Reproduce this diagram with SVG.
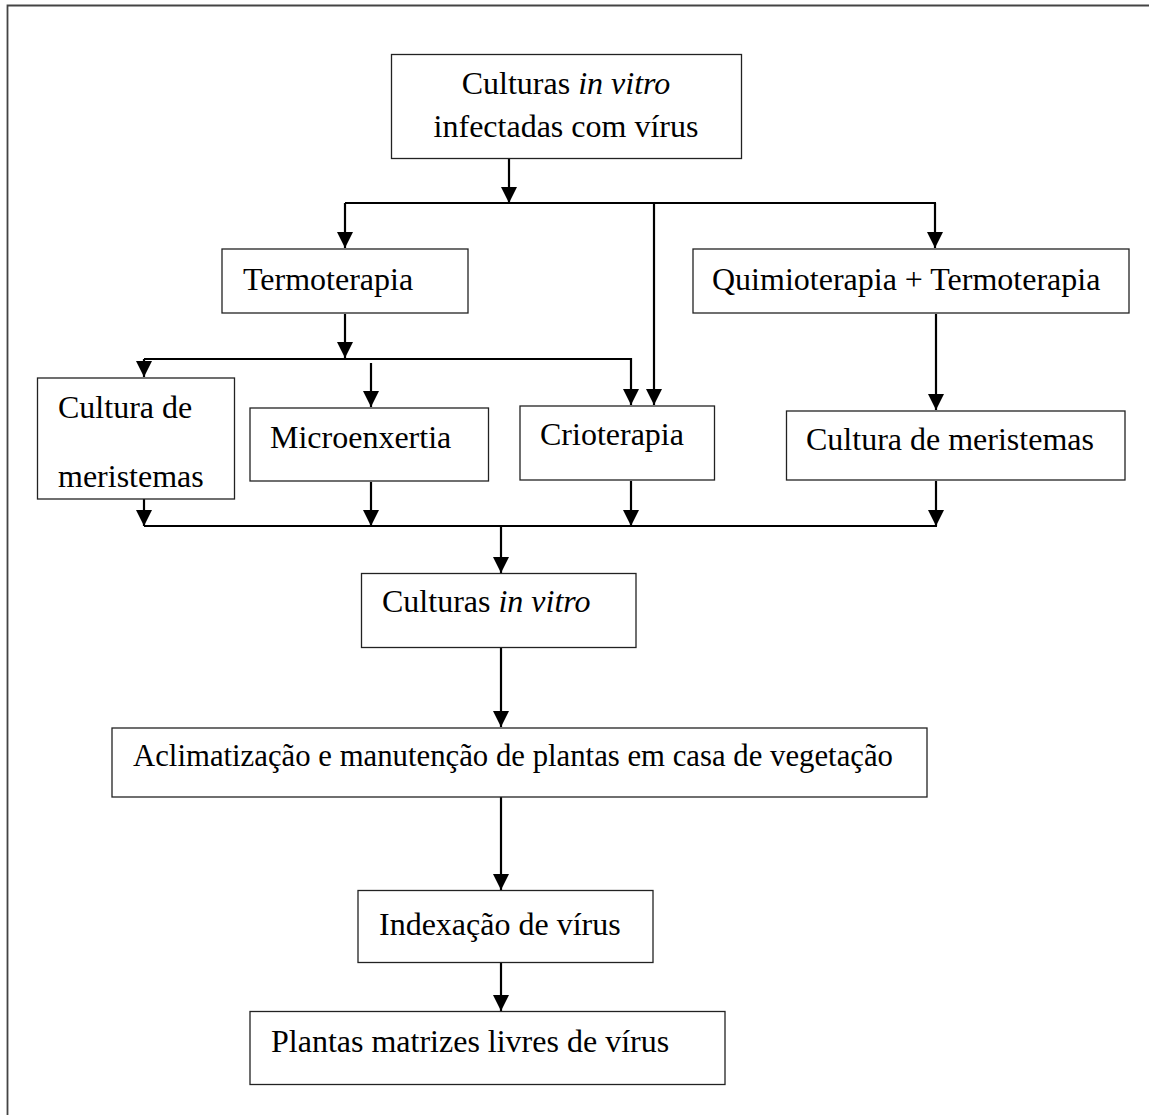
<svg xmlns="http://www.w3.org/2000/svg" width="1149" height="1115" viewBox="0 0 1149 1115">
<style>
.box{fill:#fff;stroke:#222;stroke-width:1.3}
.t{font-family:"Liberation Serif","Times New Roman",serif;font-size:32px;fill:#000}
.i{font-style:italic}
.ln{fill:none;stroke:#000;stroke-width:2.2}
.ar{fill:none;stroke:#000;stroke-width:2.2;marker-end:url(#ah)}
.frame{fill:none;stroke:#444;stroke-width:1.8}
</style>
<defs>
<marker id="ah" markerUnits="userSpaceOnUse" markerWidth="16" markerHeight="16" refX="16" refY="8" orient="auto">
<path d="M0,0 L16,8 L0,16 z" fill="#000"/>
</marker>
</defs>
<path class="frame" d="M7.5,1115 V5.5 H1149"/>
<g id="connectors">
<line class="ar" x1="509" y1="159" x2="509" y2="203"/>
<line class="ln" x1="345" y1="203" x2="936" y2="203"/>
<line class="ar" x1="345" y1="203" x2="345" y2="248"/>
<line class="ar" x1="935" y1="203" x2="935" y2="248"/>
<line class="ar" x1="654" y1="203" x2="654" y2="405"/>
<line class="ar" x1="345" y1="314" x2="345" y2="358"/>
<polyline class="ln" points="144,359 631,359"/>
<line class="ar" x1="144" y1="359" x2="144" y2="377"/>
<line class="ar" x1="371" y1="363" x2="371" y2="407"/>
<line class="ar" x1="631" y1="358" x2="631" y2="405"/>
<line class="ar" x1="936" y1="314" x2="936" y2="410"/>
<line class="ar" x1="144" y1="499" x2="144" y2="526"/>
<line class="ar" x1="371" y1="482" x2="371" y2="526"/>
<line class="ar" x1="631" y1="481" x2="631" y2="526"/>
<line class="ar" x1="936" y1="481" x2="936" y2="526"/>
<line class="ln" x1="144" y1="526" x2="937" y2="526"/>
<line class="ar" x1="501" y1="526" x2="501" y2="573"/>
<line class="ar" x1="501" y1="648" x2="501" y2="727"/>
<line class="ar" x1="501" y1="797" x2="501" y2="890"/>
<line class="ar" x1="501" y1="963" x2="501" y2="1011"/>
</g>
<g id="n-top">
<rect class="box" x="391.5" y="54.5" width="350" height="104"/>
<text class="t" x="566" y="94" text-anchor="middle">Culturas <tspan class="i">in vitro</tspan></text>
<text class="t" x="566" y="137" text-anchor="middle">infectadas com vírus</text>
</g>
<g id="n-termo">
<rect class="box" x="222" y="249" width="246" height="64"/>
<text class="t" x="243" y="290">Termoterapia</text>
</g>
<g id="n-quimio">
<rect class="box" x="693" y="249" width="436" height="64"/>
<text class="t" x="712" y="290">Quimioterapia + Termoterapia</text>
</g>
<g id="n-merist1">
<rect class="box" x="37.5" y="378" width="197" height="121"/>
<text class="t" x="58" y="418">Cultura de</text>
<text class="t" x="58" y="487">meristemas</text>
</g>
<g id="n-micro">
<rect class="box" x="250" y="408" width="238.5" height="73"/>
<text class="t" x="270" y="448">Microenxertia</text>
</g>
<g id="n-crio">
<rect class="box" x="520" y="406" width="194.5" height="74"/>
<text class="t" x="540" y="445">Crioterapia</text>
</g>
<g id="n-merist2">
<rect class="box" x="786.5" y="411" width="338.5" height="69"/>
<text class="t" x="806" y="450">Cultura de meristemas</text>
</g>
<g id="n-vitro">
<rect class="box" x="361.5" y="573.5" width="274.5" height="74"/>
<text class="t" x="382" y="612">Culturas <tspan class="i">in vitro</tspan></text>
</g>
<g id="n-aclim">
<rect class="box" x="112" y="728" width="815" height="69"/>
<text class="t" x="133" y="766" textLength="760" lengthAdjust="spacingAndGlyphs">Aclimatização e manutenção de plantas em casa de vegetação</text>
</g>
<g id="n-index">
<rect class="box" x="358" y="890.5" width="295" height="72"/>
<text class="t" x="379" y="935">Indexação de vírus</text>
</g>
<g id="n-plantas">
<rect class="box" x="250" y="1011.5" width="475" height="73"/>
<text class="t" x="271" y="1052">Plantas matrizes livres de vírus</text>
</g>
</svg>
